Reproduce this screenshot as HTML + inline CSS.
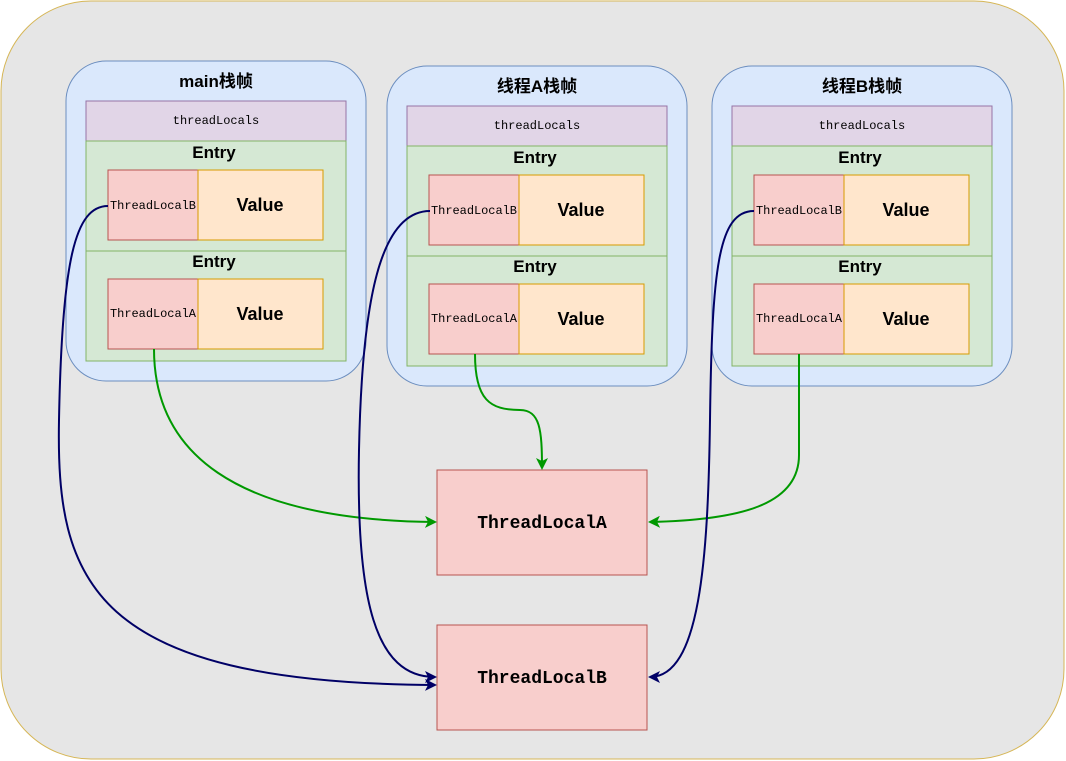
<!DOCTYPE html>
<html><head><meta charset="utf-8"><style>body{margin:0;background:#fff}svg{display:block}</style></head><body>
<svg width="1066" height="761" xmlns="http://www.w3.org/2000/svg">
<defs>
<marker id="g" markerWidth="12" markerHeight="12" refX="10" refY="6" orient="auto" markerUnits="userSpaceOnUse"><path d="M0,0 L12,6 L0,12 L3,6 Z" fill="#009900"/></marker>
<marker id="b" markerWidth="12" markerHeight="12" refX="10" refY="6" orient="auto" markerUnits="userSpaceOnUse"><path d="M0,0 L12,6 L0,12 L3,6 Z" fill="#000066"/></marker>
</defs>
<rect x="1" y="1" width="1063" height="758" rx="90" fill="#e6e6e6" stroke="#d6b656"/>
<g font-family="Liberation Sans, Noto Sans CJK SC, sans-serif">
<g id="f">
<rect x="66" y="61" width="300" height="320" rx="40" fill="#dae8fc" stroke="#6c8ebf"/>
<rect x="86" y="101" width="260" height="40" fill="#e1d5e7" stroke="#9673a6"/>
<text x="216" y="124" font-family="Liberation Mono, monospace" font-size="12" text-anchor="middle">threadLocals</text>
<rect x="86" y="141" width="260" height="110" fill="#d5e8d4" stroke="#82b366"/>
<text x="214" y="158" font-size="17" font-weight="bold" text-anchor="middle">Entry</text>
<rect x="108" y="170" width="90" height="70" fill="#f8cecc" stroke="#b85450"/>
<text x="153" y="209" font-family="Liberation Mono, monospace" font-size="12" text-anchor="middle" textLength="86">ThreadLocalB</text>
<rect x="198" y="170" width="125" height="70" fill="#ffe6cc" stroke="#d79b00"/>
<text x="260" y="211" font-size="18" font-weight="bold" text-anchor="middle">Value</text>
<rect x="86" y="251" width="260" height="110" fill="#d5e8d4" stroke="#82b366"/>
<text x="214" y="267" font-size="17" font-weight="bold" text-anchor="middle">Entry</text>
<rect x="108" y="279" width="90" height="70" fill="#f8cecc" stroke="#b85450"/>
<text x="153" y="317" font-family="Liberation Mono, monospace" font-size="12" text-anchor="middle" textLength="86">ThreadLocalA</text>
<rect x="198" y="279" width="125" height="70" fill="#ffe6cc" stroke="#d79b00"/>
<text x="260" y="320" font-size="18" font-weight="bold" text-anchor="middle">Value</text>
</g>
<use href="#f" transform="translate(321,5)"/>
<use href="#f" transform="translate(646,5)"/>
<text x="216" y="87" font-size="17" font-weight="bold" text-anchor="middle">main栈帧</text>
<text x="537" y="92" font-size="17" font-weight="bold" text-anchor="middle">线程A栈帧</text>
<text x="862" y="92" font-size="17" font-weight="bold" text-anchor="middle">线程B栈帧</text>
<rect x="437" y="470" width="210" height="105" fill="#f8cecc" stroke="#b85450"/>
<text x="542" y="528" font-family="Liberation Mono, monospace" font-size="18" font-weight="bold" text-anchor="middle">ThreadLocalA</text>
<rect x="437" y="625" width="210" height="105" fill="#f8cecc" stroke="#b85450"/>
<text x="542" y="683" font-family="Liberation Mono, monospace" font-size="18" font-weight="bold" text-anchor="middle">ThreadLocalB</text>
</g>
<g fill="none" stroke-width="2">
<path d="M154,349 C154,450 230,520 435,522" stroke="#009900" marker-end="url(#g)"/>
<path d="M475,354 C475,400 490,410 520,410 C540,410 542,430 542,468" stroke="#009900" marker-end="url(#g)"/>
<path d="M799,354 L799,455 C799,505 740,520 650,522" stroke="#009900" marker-end="url(#g)"/>
<path d="M108,206 C75,206 62,260 59,420 C56,580 90,683 435,685" stroke="#000066" marker-end="url(#b)"/>
<path d="M430,211 C380,211 362,300 359,450 C356,600 375,677 435,677" stroke="#000066" marker-end="url(#b)"/>
<path d="M754,211 C718,211 712,270 710,420 C708,560 700,677 650,677" stroke="#000066" marker-end="url(#b)"/>
</g>
</svg>
</body></html>
